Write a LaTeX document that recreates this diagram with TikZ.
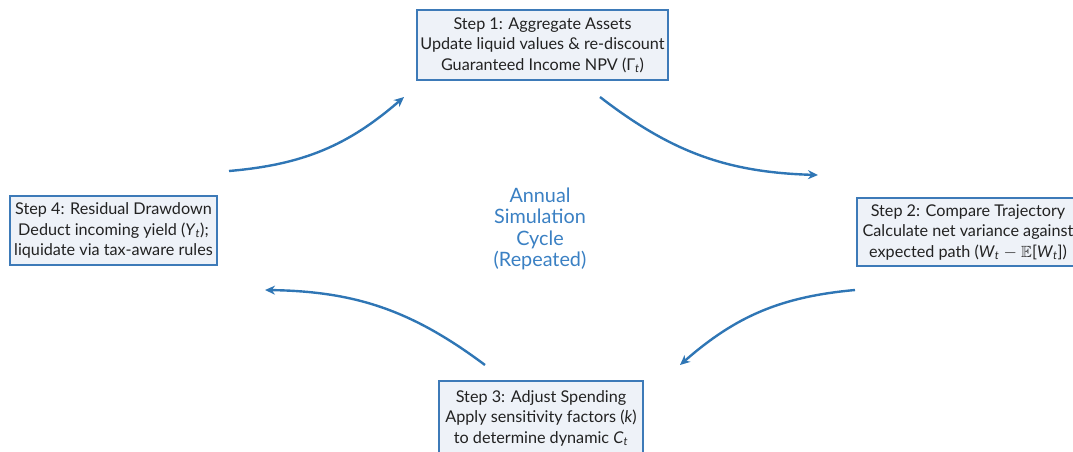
\documentclass[tikz,border=0pt]{standalone}
\usepackage{fontspec}
\usepackage{amssymb}
\setmainfont{Lato}
\usetikzlibrary{arrows.meta}
\definecolor{boxblue}{HTML}{3D7AB8}
\definecolor{boxfill}{HTML}{EEF2F8}
\definecolor{txt}{HTML}{222222}
\definecolor{arrowblue}{HTML}{2F76B5}
\definecolor{cyctext}{HTML}{3A80C3}
\newcommand{\mv}[2]{\textit{#1}\textsubscript{\textit{#2}}}
\begin{document}
\begin{tikzpicture}[x=1pt,y=-1pt,
  stepbox/.style={draw=boxblue, line width=2.2pt, fill=boxfill, text=txt, align=center,
    font=\fontsize{16.2}{20.5}\selectfont, inner sep=0pt},
  cycarrow/.style={-{Stealth[length=10pt,width=9pt]}, draw=arrowblue, line width=2.4pt, bend right=18},
  centertext/.style={text=cyctext, align=center, font=\fontsize{19.8}{21.5}\selectfont}]
\useasboundingbox (0,0) rectangle (1073,451);
\node[stepbox, minimum width=251, minimum height=70] (s1) at (542.5,45)
  {Step 1: Aggregate Assets\\Update liquid values \& re-discount\\Guaranteed Income NPV (Γ\textsubscript{\textit{t}})};
\node[stepbox, minimum width=222, minimum height=68] (s2) at (968,232)
  {Step 2: Compare Trajectory\\Calculate net variance against\\expected path (\mv{W}{t} $-$ $\mathbb{E}$[\mv{W}{t}])};
\node[stepbox, minimum width=204, minimum height=74] (s3) at (541,418)
  {Step 3: Adjust Spending\\Apply sensitivity factors (\textit{k})\\to determine dynamic \mv{C}{t}};
\node[stepbox, minimum width=207, minimum height=69] (s4) at (113.5,230.5)
  {Step 4: Residual Drawdown\\Deduct incoming yield (\mv{Y}{t});\\liquidate via tax-aware rules};
\node[centertext] (cyc) at (540,229) {Annual\\Simulation\\Cycle\\(Repeated)};
\coordinate (a1s) at (229,171); \coordinate (a1e) at (404,97);
\coordinate (a2s) at (600,97);  \coordinate (a2e) at (818,175);
\coordinate (a3s) at (855,290); \coordinate (a3e) at (680,365);
\coordinate (a4s) at (485,365); \coordinate (a4e) at (265,290);
\draw[cycarrow] (a1s) to (a1e);
\draw[cycarrow] (a2s) to (a2e);
\draw[cycarrow] (a3s) to (a3e);
\draw[cycarrow] (a4s) to (a4e);
\end{tikzpicture}
\end{document}
